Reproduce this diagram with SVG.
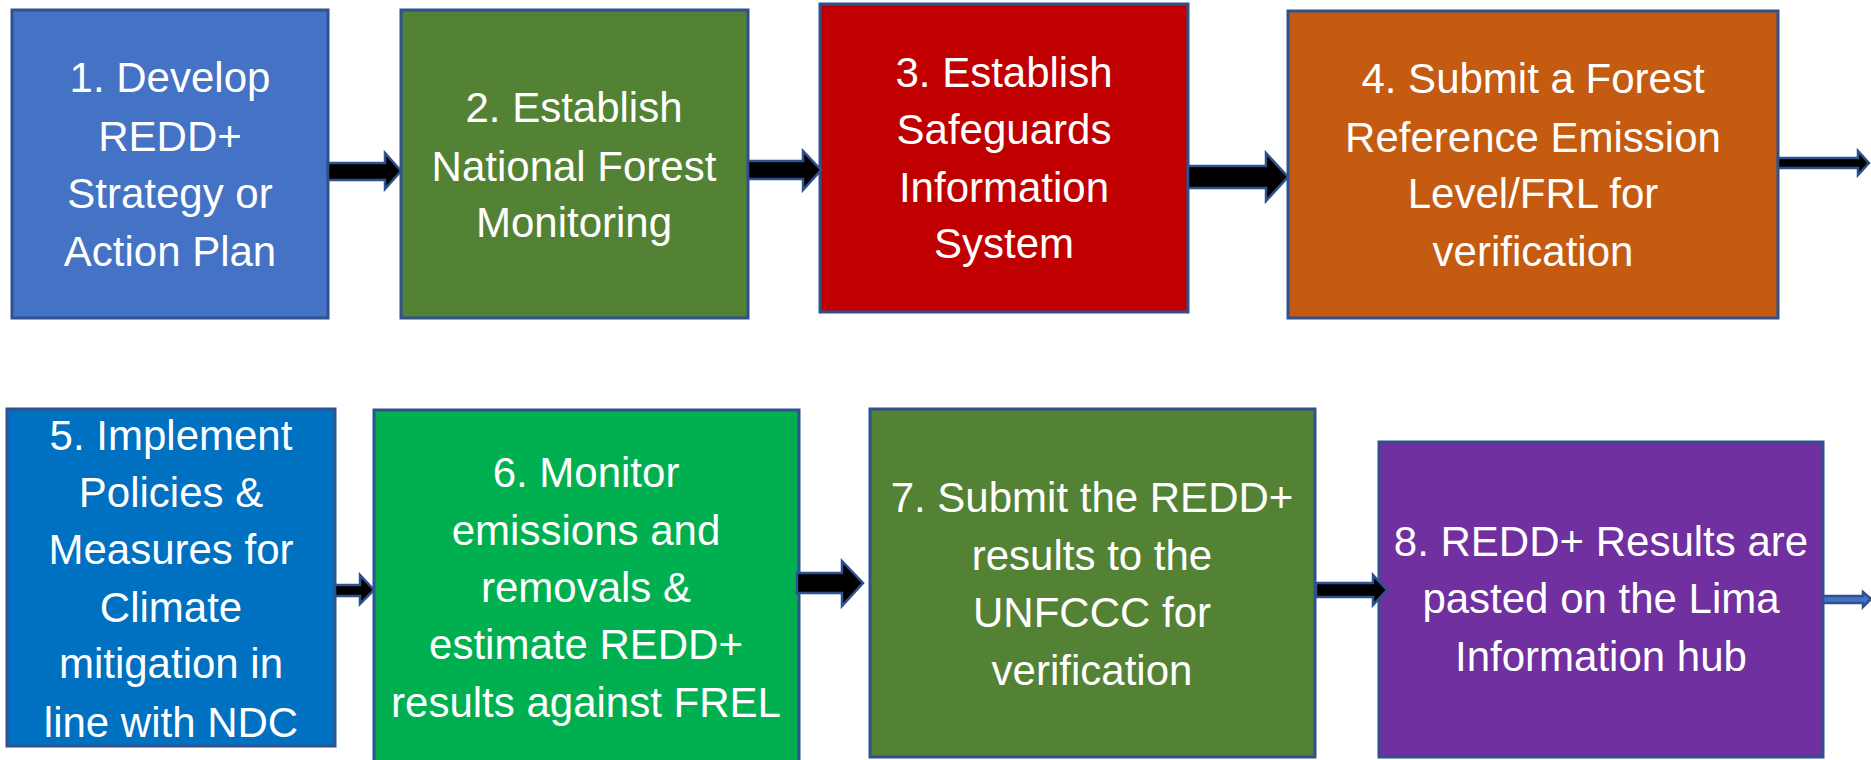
<svg xmlns="http://www.w3.org/2000/svg" width="1871" height="760" viewBox="0 0 1871 760">
<style>
.box{stroke:#2F528F;stroke-width:3}
.t{font-family:"Liberation Sans",Arial,sans-serif;font-size:42px;fill:#FFFFFF;text-anchor:middle}
.arr{fill:#000000;stroke:#2F528F;stroke-width:2.5;stroke-linejoin:miter}
</style>
<rect width="1871" height="760" fill="#FFFFFF"/>
<g id="node1">
<rect class="box" x="12" y="10" width="316" height="308" fill="#4472C4"/>
<text class="t" x="170" y="92">1. Develop</text>
<text class="t" x="170" y="151">REDD+</text>
<text class="t" x="170" y="208">Strategy or</text>
<text class="t" x="170" y="266">Action Plan</text>
</g>
<g id="node2">
<rect class="box" x="401" y="10" width="347" height="308" fill="#548235"/>
<text class="t" x="574" y="122">2. Establish</text>
<text class="t" x="574" y="181">National Forest</text>
<text class="t" x="574" y="237">Monitoring</text>
</g>
<g id="node3">
<rect class="box" x="820" y="4" width="368" height="308" fill="#C00000"/>
<text class="t" x="1004" y="87">3. Establish</text>
<text class="t" x="1004" y="144">Safeguards</text>
<text class="t" x="1004" y="202">Information</text>
<text class="t" x="1004" y="258">System</text>
</g>
<g id="node4">
<rect class="box" x="1288" y="11" width="490" height="307" fill="#C55A11"/>
<text class="t" x="1533" y="93">4. Submit a Forest</text>
<text class="t" x="1533" y="152">Reference Emission</text>
<text class="t" x="1533" y="208">Level/FRL for</text>
<text class="t" x="1533" y="266">verification</text>
</g>
<g id="node5">
<rect class="box" x="7" y="409" width="328" height="337" fill="#0070C0"/>
<text class="t" x="171" y="450">5. Implement</text>
<text class="t" x="171" y="507">Policies &amp;</text>
<text class="t" x="171" y="564">Measures for</text>
<text class="t" x="171" y="622">Climate</text>
<text class="t" x="171" y="678">mitigation in</text>
<text class="t" x="171" y="737">line with NDC</text>
</g>
<g id="node6">
<rect class="box" x="374" y="410" width="425" height="360" fill="#00B050"/>
<text class="t" x="586" y="487">6. Monitor</text>
<text class="t" x="586" y="545">emissions and</text>
<text class="t" x="586" y="602">removals &amp;</text>
<text class="t" x="586" y="659">estimate REDD+</text>
<text class="t" x="586" y="717">results against FREL</text>
</g>
<g id="node7">
<rect class="box" x="870" y="409" width="445" height="348" fill="#548235"/>
<text class="t" x="1092" y="512">7. Submit the REDD+</text>
<text class="t" x="1092" y="570">results to the</text>
<text class="t" x="1092" y="627">UNFCCC for</text>
<text class="t" x="1092" y="685">verification</text>
</g>
<g id="node8">
<rect class="box" x="1379" y="442" width="444" height="315" fill="#7030A0"/>
<text class="t" x="1601" y="556">8. REDD+ Results are</text>
<text class="t" x="1601" y="613">pasted on the Lima</text>
<text class="t" x="1601" y="671">Information hub</text>
</g>
<g id="connectors">
<polygon class="arr" points="328,163 385,163 385,153 401,171 385,189 385,180 328,180"/>
<polygon class="arr" points="748,161 803,161 803,151 821,170 803,190 803,179 748,179"/>
<polygon class="arr" points="1188,166 1266,166 1266,153 1288,177 1266,201 1266,188 1188,188"/>
<polygon class="arr" points="1778,158 1858,158 1858,151 1869,163 1858,175 1858,168 1778,168"/>
<polygon class="arr" points="335,585 360,585 360,575 374,590 360,604 360,596 335,596"/>
<polygon class="arr" points="797,573 842,573 842,561 863,583 842,606 842,593 797,593"/>
<polygon class="arr" points="1316,583 1373,583 1373,575 1387,590 1373,605 1373,597 1316,597"/>
<polygon class="arr" style="fill:#4472C4" points="1823,596 1863,596 1863,592 1871,599 1863,607 1863,603 1823,603"/>
</g>
</svg>
